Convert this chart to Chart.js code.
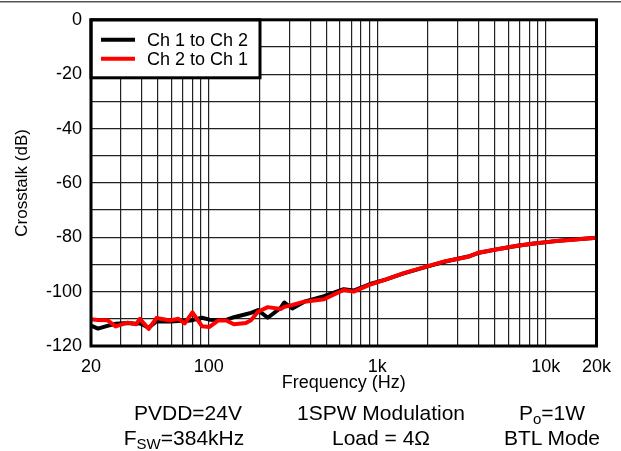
<!DOCTYPE html>
<html>
<head>
<meta charset="utf-8">
<script src="https://cdn.jsdelivr.net/npm/chart.js@4/dist/chart.umd.min.js"></script>
<style>
    html, body { margin: 0; padding: 0; background: #fff; }
    #wrap { position: relative; width: 621px; height: 451px; }
    #crosstalkChart { position: absolute; left: 0; top: 0; }
    .note {
        position: absolute;
        font-family: "Liberation Sans", Arial, sans-serif;
        font-size: 21px;
        color: #000;
        white-space: nowrap;
        transform: translate(-50%, -50%);
        line-height: 1;
    }
    .note sub { font-size: 15px; vertical-align: -4px; line-height: 0; }
</style>
</head>
<body>
<div id="wrap">
    <canvas id="crosstalkChart" width="621" height="451"></canvas>
    <div class="note" style="left:188px; top:412px;">PVDD=24V</div>
    <div class="note" style="left:184px; top:437px;">F<sub>SW</sub>=384kHz</div>
    <div class="note" style="left:381px; top:412px;">1SPW Modulation</div>
    <div class="note" style="left:381px; top:437px;">Load = 4&Omega;</div>
    <div class="note" style="left:552px; top:412px;">P<sub>o</sub>=1W</div>
    <div class="note" style="left:552px; top:437px;">BTL Mode</div>
</div>
<script>
// frequency points (Hz) shared by both traces
const freqHz = [20, 22, 25, 28, 33, 37, 39, 44, 49, 59, 66, 72, 80, 91, 101, 114, 127, 141, 166, 178,
    196, 224, 267, 281, 313, 369, 483, 632, 724, 898, 1130, 1420, 2020, 2540, 3460, 3960, 5470, 6790,
    8540, 10740, 13340, 20000];

// crosstalk (dB)
const ch1ToCh2 = [-112.5, -113.6, -112.6, -111.8, -111.5, -111.8, -111.6, -113.3, -110.9, -111.0, -110.8,
    -110.8, -110.5, -109.6, -110.3, -110.4, -110.4, -109.4, -108.3, -107.8, -106.8, -109.6, -106.0, -104.0,
    -106.2, -103.7, -101.7, -99.1, -99.6, -97.3, -95.5, -93.4, -90.6, -88.9, -87.1, -85.8, -84.1, -83.1,
    -82.3, -81.6, -81.0, -80.2];
const ch2ToCh1 = [-110.2, -110.4, -110.5, -112.8, -111.4, -112.0, -110.0, -113.7, -109.7, -110.6, -110.0,
    -111.7, -107.6, -112.7, -113.0, -110.6, -110.6, -112.0, -111.5, -110.5, -107.4, -105.7, -106.4, -105.6,
    -104.9, -103.7, -102.8, -99.4, -100.0, -97.5, -95.5, -93.3, -90.5, -88.8, -87.2, -85.7, -84.1, -83.1,
    -82.3, -81.6, -81.1, -80.2];

// x grid lines and the few that carry a label
const xGridValues = [20, 30, 40, 50, 60, 70, 80, 90, 100, 200, 300, 400, 500, 600, 700, 800, 900,
    1000, 2000, 3000, 4000, 5000, 6000, 7000, 8000, 9000, 10000, 20000];
const xTickLabels = { 20: '20', 100: '100', 1000: '1k', 10000: '10k', 20000: '20k' };
const yLabelValues = [0, -20, -40, -60, -80, -100, -120];

const FONT = '"Liberation Sans", Arial, sans-serif';

function toPoints(values) {
    return freqHz.map(function(f, i) { return { x: f, y: values[i] }; });
}

// thick frame round the plot, the thin rule at the very top, and the boxed legend
const framePlugin = {
    id: 'frame',
    afterDraw: function(chart) {
        const ctx = chart.ctx;
        const area = chart.chartArea;
        ctx.save();
        ctx.fillStyle = '#555';
        ctx.fillRect(0, 1, chart.width, 1.5);

        // legend box
        const bx = area.left, by = area.top, bw = 169, bh = 58;
        ctx.fillStyle = '#fff';
        ctx.fillRect(bx, by, bw, bh);
        ctx.strokeStyle = '#000';
        ctx.lineWidth = 3;
        ctx.strokeRect(bx, by, bw, bh);

        const items = [chart.data.datasets[1], chart.data.datasets[0]];
        ctx.font = '18px ' + FONT;
        ctx.textBaseline = 'middle';
        items.forEach(function(ds, i) {
            const y = by + 20 + i * 19;
            ctx.strokeStyle = ds.borderColor;
            ctx.lineWidth = 4;
            ctx.beginPath();
            ctx.moveTo(bx + 10, y);
            ctx.lineTo(bx + 44, y);
            ctx.stroke();
            ctx.fillStyle = '#000';
            ctx.fillText(ds.label, bx + 56, y + 1);
        });

        ctx.strokeStyle = '#000';
        ctx.lineWidth = 3;
        ctx.strokeRect(area.left, area.top, area.right - area.left, area.bottom - area.top);
        ctx.restore();
    }
};

const ctx = document.getElementById('crosstalkChart').getContext('2d');
const crosstalkChart = new Chart(ctx, {
    type: 'line',
    data: {
        datasets: [{
            label: 'Ch 2 to Ch 1',
            data: toPoints(ch2ToCh1),
            borderColor: '#ff0000',
            borderWidth: 4,
            pointRadius: 0,
            tension: 0,
            borderJoinStyle: 'round',
            order: 1
        }, {
            label: 'Ch 1 to Ch 2',
            data: toPoints(ch1ToCh2),
            borderColor: '#000000',
            borderWidth: 4,
            pointRadius: 0,
            tension: 0,
            borderJoinStyle: 'round',
            order: 2
        }]
    },
    options: {
        responsive: false,
        animation: false,
        layout: { padding: { top: 19, right: 18, left: 0, bottom: 0 } },
        plugins: {
            legend: { display: false },
            tooltip: { enabled: false }
        },
        scales: {
            x: {
                type: 'logarithmic',
                min: 20,
                max: 20000,
                afterBuildTicks: function(scale) {
                    scale.ticks = xGridValues.map(function(v) { return { value: v }; });
                },
                afterFit: function(scale) { scale.height = 105; },
                border: { display: false },
                grid: { color: '#222', lineWidth: 1.2, drawTicks: false },
                ticks: {
                    autoSkip: false,
                    maxRotation: 0,
                    padding: 10,
                    color: '#000',
                    font: { family: FONT, size: 18 },
                    callback: function(value) { return xTickLabels[value] || ''; }
                },
                title: {
                    display: true,
                    text: 'Frequency (Hz)',
                    color: '#000',
                    font: { family: FONT, size: 18 },
                    padding: { top: 0, bottom: 57 }
                }
            },
            y: {
                min: -120,
                max: 0,
                afterFit: function(scale) { scale.width = 91; },
                border: { display: false },
                grid: { color: '#222', lineWidth: 1.2, drawTicks: false },
                ticks: {
                    stepSize: 10,
                    padding: 9,
                    color: '#000',
                    font: { family: FONT, size: 18 },
                    callback: function(value) { return yLabelValues.includes(value) ? String(value) : ''; }
                },
                title: {
                    display: true,
                    text: 'Crosstalk (dB)',
                    color: '#000',
                    font: { family: FONT, size: 17 },
                    padding: { top: 12, bottom: 0 }
                }
            }
        }
    },
    plugins: [framePlugin]
});
</script>
</body>
</html>
